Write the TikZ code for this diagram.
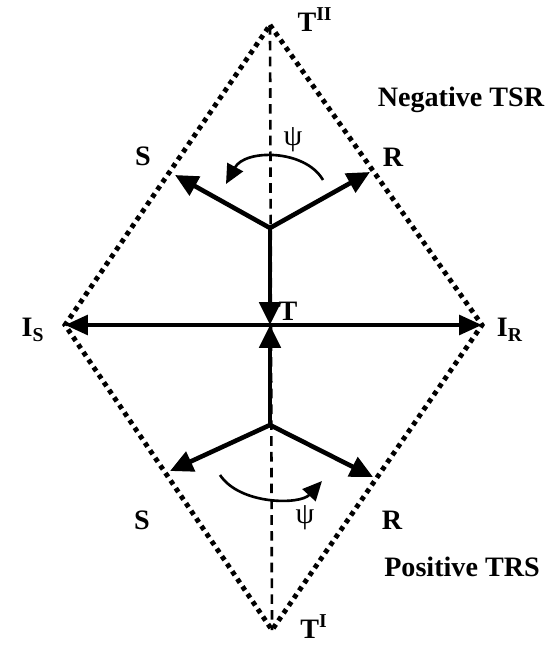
\documentclass[tikz,border=0pt]{standalone}
\usepackage{fontspec}
\setmainfont{Liberation Serif}
\usetikzlibrary{arrows.meta}

\begin{document}
\begin{tikzpicture}[
    x=0.02cm, y=-0.02cm,
    tip/.style={-{Triangle[length=13pt,width=12pt]}},
    vec/.style={line width=2.6pt, tip},
    rim/.style={line width=2.8pt, dash pattern=on 2.6pt off 2.6pt},
    axis/.style={line width=1.5pt, dash pattern=on 5.5pt off 3.5pt},
    rot/.style={line width=1.5pt, -{Triangle[length=11pt,width=10pt]}},
    lab/.style={font=\bfseries\fontsize{16}{18}\selectfont, inner sep=0pt},
    ang/.style={font=\fontsize{17}{19}\selectfont, inner sep=0pt},
]
% pixel grid of the reference, y pointing down
\useasboundingbox (0,0) rectangle (549,645);

% corners of the rhombus
\coordinate (TII) at (270,25);
\coordinate (TI)  at (272,630);
\coordinate (IS)  at (65,325);
\coordinate (IR)  at (482,325);
\coordinate (T)   at (270,325);

% upper and lower branch points
\coordinate (Jup) at (270,228);
\coordinate (Sup) at (175,175);
\coordinate (Rup) at (370,172);
\coordinate (Jlo) at (270,425);
\coordinate (Slo) at (170,471);
\coordinate (Rlo) at (373,477);

% rhombus and axis
\draw[rim] (TII) -- (IR) -- (TI) -- (IS) -- cycle;
\draw[axis] (TII) -- (TI);

% vectors
\draw[vec, {Triangle[length=13pt,width=11pt]}-{Triangle[length=13pt,width=11pt]}] (IS) -- (IR);
\draw[vec] (Jup) -- (T);
\draw[vec] (Jlo) -- (T);
\draw[vec] (Jup) -- (Sup);
\draw[vec] (Jup) -- (Rup);
\draw[vec] (Jlo) -- (Slo);
\draw[vec] (Jlo) -- (Rlo);

% rotation arrows
\coordinate (psiUa) at (323,180);
\coordinate (psiUb) at (226,184);
\coordinate (psiLa) at (220,475);
\coordinate (psiLb) at (322,481);
\draw[rot] (psiUa) .. controls (305,149) and (245,149) .. (psiUb);
\draw[rot] (psiLa) .. controls (240,505) and (300,505) .. (psiLb);

% labels
\node[lab] (lTII) at (315,20) {T\textsuperscript{II}};
\node[lab] (lTI)  at (314,627) {T\textsuperscript{I}};
\node[lab] (lNeg) at (461,100) {Negative TSR};
\node[lab] (lPos) at (462,567) {Positive TRS};
\node[lab] (lSup) at (143,156) {S};
\node[lab] (lRup) at (393,157) {R};
\node[lab] (lSlo) at (142,520) {S};
\node[lab] (lRlo) at (392,520) {R};
\node[lab] (lIS)  at (33,330) {I\textsubscript{S}};
\node[lab] (lIR)  at (510,330) {I\textsubscript{R}};
\node[lab] (lT)   at (288,311) {T};
\node[ang] (psiU) at (293,140) {ψ};
\node[ang] (psiL) at (305,518) {ψ};
\end{tikzpicture}
\end{document}
